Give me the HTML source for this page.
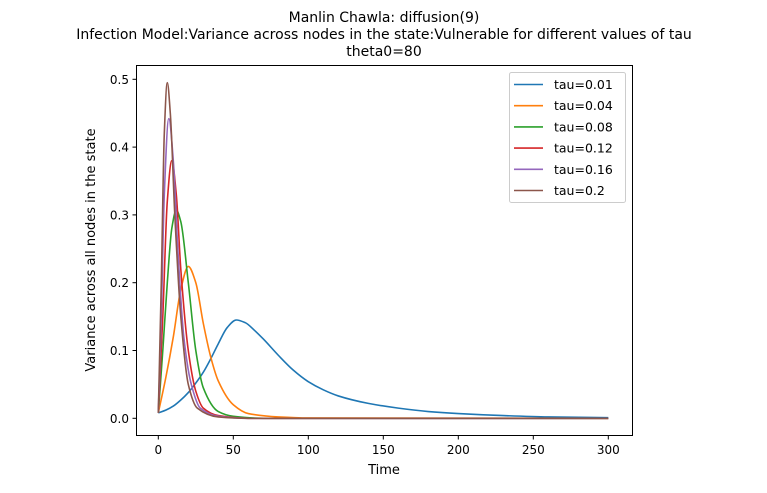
<!DOCTYPE html>
<html><head><meta charset="utf-8"><style>
body{margin:0;background:#fff;}
svg text{font-family:"DejaVu Sans","Liberation Sans",sans-serif;fill:#000;}
</style></head><body>
<svg id="chart" width="767" height="488" xmlns="http://www.w3.org/2000/svg">
<rect width="767" height="488" fill="#fff"/>
<g id="titles" font-size="14" text-anchor="middle">
<text x="384" y="22">Manlin Chawla: diffusion(9)</text>
<text x="384" y="39">Infection Model:Variance across nodes in the state:Vulnerable for different values of tau</text>
<text x="384" y="56">theta0=80</text>
</g>
<g id="ticks"></g>
<g id="series"></g>
<rect x="136.5" y="65.5" width="496" height="370" fill="none" stroke="#000" stroke-width="1"/>
<text x="384" y="474" font-size="13" text-anchor="middle">Time</text>
<text transform="translate(95,250) rotate(-90)" font-size="13" text-anchor="middle">Variance across all nodes in the state</text>
<g id="legend"></g>
</svg>
<script>
const labels=["tau=0.01","tau=0.04","tau=0.08","tau=0.12","tau=0.16","tau=0.2"];
const colors=["#1f77b4","#ff7f0e","#2ca02c","#d62728","#9467bd","#8c564b"];
const xTicks=[0,50,100,150,200,250,300];
const yTicks=[0.0,0.1,0.2,0.3,0.4,0.5];
const t1=[0,5,10,15,20,25,30,35,40,46,52,58,64,70,80,90,100,110,120,140,160,180,200,230,260,300];
const v1=[0.008,0.012,0.018,0.027,0.038,0.052,0.068,0.088,0.11,0.134,0.145,0.141,0.13,0.117,0.093,0.071,0.054,0.042,0.033,0.022,0.015,0.01,0.007,0.004,0.002,0.001];
const t2=[0,5,10,15,20,25,30,35,40,50,60,80,100,300];
const v2=[0.008,0.06,0.12,0.19,0.224,0.2,0.14,0.09,0.055,0.02,0.007,0.002,0.0005,0];
const t3=[0,3,6,9,12,15,20,25,30,40,50,70,300];
const v3=[0.008,0.1,0.2,0.28,0.307,0.29,0.2,0.1,0.045,0.01,0.003,0,0];
const t4=[0,3,6,9,12,15,20,25,30,40,60,300];
const v4=[0.008,0.15,0.32,0.38,0.33,0.22,0.1,0.04,0.015,0.004,0,0];
const t5=[0,2,4,7,10,13,17,22,28,40,60,300];
const v5=[0.008,0.15,0.33,0.442,0.38,0.25,0.12,0.05,0.015,0.003,0,0];
const t6=[0,2,4,6,8,11,15,20,26,40,60,300];
const v6=[0.008,0.2,0.42,0.495,0.45,0.3,0.15,0.05,0.015,0.002,0,0];
const times=[t1,t2,t3,t4,t5,t6];
const vals=[v1,v2,v3,v4,v5,v6];

const NS="http://www.w3.org/2000/svg";
const xs=v=>158.3+v*1.5;
const ys=v=>418.3-v*678;
function mk(tag,attrs,parent){const e=document.createElementNS(NS,tag);for(const k in attrs)e.setAttribute(k,attrs[k]);parent.appendChild(e);return e;}
function monotonePath(X,Y){
  const n=X.length,d=[],m=[];
  for(let i=0;i<n-1;i++)d.push((Y[i+1]-Y[i])/(X[i+1]-X[i]));
  m[0]=d[0];m[n-1]=d[n-2];
  for(let i=1;i<n-1;i++){
    if(d[i-1]*d[i]<=0)m[i]=0;
    else{const h0=X[i]-X[i-1],h1=X[i+1]-X[i];const w1=2*h1+h0,w2=h1+2*h0;m[i]=(w1+w2)/(w1/d[i-1]+w2/d[i]);}
  }
  let s='M'+X[0].toFixed(2)+','+Y[0].toFixed(2);
  for(let i=0;i<n-1;i++){
    const h=(X[i+1]-X[i])/3;
    s+=' C'+(X[i]+h).toFixed(2)+','+(Y[i]+m[i]*h).toFixed(2)+' '+(X[i+1]-h).toFixed(2)+','+(Y[i+1]-m[i+1]*h).toFixed(2)+' '+X[i+1].toFixed(2)+','+Y[i+1].toFixed(2);
  }
  return s;
}
const tg=document.getElementById('ticks');
xTicks.forEach(v=>{
  const l=mk('line',{x1:xs(v),x2:xs(v),y1:435.5,y2:439.5,stroke:'#000'},tg);
  
  
  const t=mk('text',{x:xs(v),y:454,'font-size':12,'text-anchor':'middle'},tg);
  
  
  t.textContent=v;
});
yTicks.forEach(v=>{
  const l=mk('line',{x1:132.5,x2:136.5,y1:ys(v),y2:ys(v),stroke:'#000'},tg);
  
  
  const t=mk('text',{x:129,y:ys(v)+4.5,'font-size':12,'text-anchor':'end'},tg);
  
  
  t.textContent=v.toFixed(1);
});
const sg=document.getElementById('series');
vals.forEach((vs,i)=>{
  const X=times[i].map(xs),Y=vs.map(ys);
  const p=mk('path',{d:monotonePath(X,Y),fill:'none',stroke:colors[i],'stroke-width':1.6,'stroke-linejoin':'round'},sg);
  
  
});
const lg=document.getElementById('legend');
const box=mk('rect',{x:509.5,y:72.5,width:116,height:130,rx:2,fill:'#fff',stroke:'#ccc'},lg);


labels.forEach((s,i)=>{
  const y=84.5+i*21.2;
  const l=mk('line',{x1:514,x2:543,y1:y,y2:y,stroke:colors[i],'stroke-width':1.6},lg);
  
  
  const t=mk('text',{x:554,y:y+4.5,'font-size':12.5},lg);
  
  
  t.textContent=s;
});
</script>
</body></html>
